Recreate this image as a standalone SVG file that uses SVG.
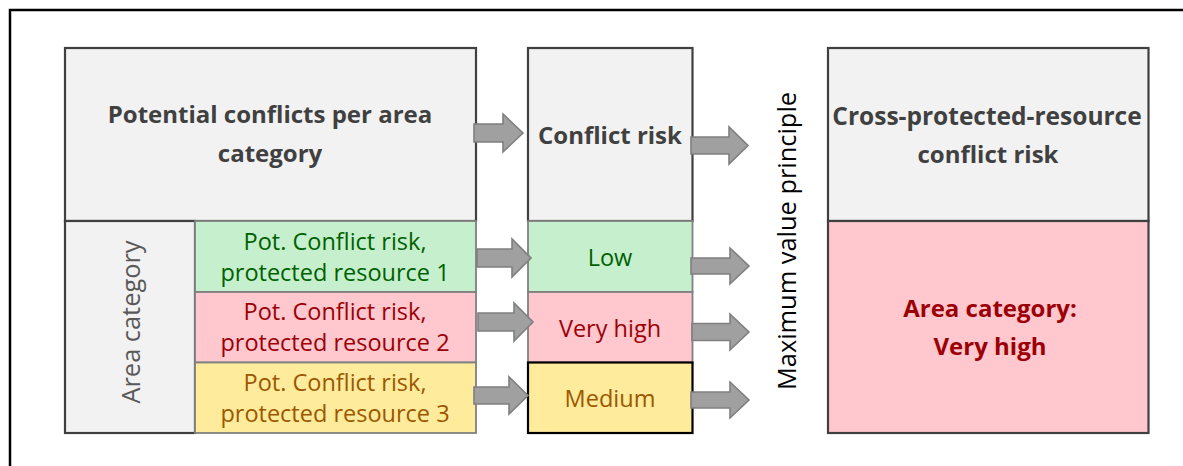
<svg xmlns="http://www.w3.org/2000/svg" width="1183" height="466" viewBox="0 0 1183 466">
<style>
.frame{fill:#ffffff;stroke:#000000;stroke-width:2.5}
.grey{fill:#f2f2f2;stroke:#404040;stroke-width:2.2}
.green{fill:#c6efce;stroke:#808080;stroke-width:1.8}
.pink{fill:#ffc7ce;stroke:#808080;stroke-width:1.8}
.yellow{fill:#ffeb9c;stroke:#808080;stroke-width:1.8}
.pinkdark{fill:#ffc7ce;stroke:#404040;stroke-width:2.2}
.yellowblack{fill:#ffeb9c;stroke:#000000;stroke-width:2.2}
.arrow{fill:#a0a0a0;stroke:#7f7f7f;stroke-width:1.6;stroke-linejoin:miter}
text{font-family:"Open Sans","Liberation Sans",sans-serif;text-anchor:middle}
.title{font-weight:bold;font-size:24px;fill:#404040}
.row{font-size:23.5px}
.g{fill:#006100}
.r{fill:#9c0006}
.y{fill:#9c5700}
.rot{font-size:25.4px}
</style>
<rect class="frame" x="10" y="10" width="1200" height="500"/>

<g id="node-potential">
<rect class="grey" x="65" y="48" width="411" height="173"/>
<text class="title" x="270" y="123">Potential conflicts per area</text>
<text class="title" x="270" y="162">category</text>
</g>
<g id="node-area-category">
<rect class="grey" x="65" y="221" width="130" height="212"/>
<text class="rot" transform="translate(140,322) rotate(-90)" fill="#595959">Area category</text>
</g>
<g id="node-pot1">
<rect class="green" x="195" y="221" width="281" height="71"/>
<text class="row g" x="335" y="250">Pot. Conflict risk,</text>
<text class="row g" x="335" y="281">protected resource 1</text>
</g>
<g id="node-pot2">
<rect class="pink" x="195" y="292" width="281" height="70.5"/>
<text class="row r" x="335" y="320">Pot. Conflict risk,</text>
<text class="row r" x="335" y="351">protected resource 2</text>
</g>
<g id="node-pot3">
<rect class="yellow" x="195" y="362.5" width="281" height="70.5"/>
<text class="row y" x="335" y="391">Pot. Conflict risk,</text>
<text class="row y" x="335" y="422">protected resource 3</text>
</g>

<g id="node-conflict-risk">
<rect class="grey" x="528" y="48" width="164.5" height="173"/>
<text class="title" x="610" y="144">Conflict risk</text>
</g>
<g id="node-low">
<rect class="green" x="528" y="221" width="164.5" height="71"/>
<text class="row g" x="610" y="266">Low</text>
</g>
<g id="node-veryhigh">
<rect class="pink" x="528" y="292" width="164.5" height="70.5"/>
<text class="row r" x="610" y="336.5">Very high</text>
</g>
<g id="node-medium">
<rect class="yellowblack" x="528" y="362.5" width="164.5" height="70.5"/>
<text class="row y" x="610" y="407">Medium</text>
</g>

<g id="node-max-principle">
<text class="rot" transform="translate(796,241) rotate(-90)" fill="#000000">Maximum value principle</text>
</g>

<g id="node-cross">
<rect class="grey" x="828" y="48" width="320.5" height="173"/>
<text class="title" x="987" y="125" style="font-size:24.5px">Cross-protected-resource</text>
<text class="title" x="988" y="163">conflict risk</text>
</g>
<g id="node-result">
<rect class="pinkdark" x="828" y="221" width="320.5" height="212"/>
<text class="title r" x="990" y="317">Area category:</text>
<text class="title r" x="990" y="355">Very high</text>
</g>

<g id="connectors">
<path class="arrow" d="M474,124 H503 V114 L523,133 L503,152 V142 H474 Z"/>
<path class="arrow" d="M691,137 H729 V127 L748,145.5 L729,164 V154 H691 Z"/>
<path class="arrow" d="M477,249 H512 V239 L531,258 L512,277 V267 H477 Z"/>
<path class="arrow" d="M478,313 H514 V303 L533,322 L514,341 V331 H478 Z"/>
<path class="arrow" d="M474,387 H509 V377 L528,395.5 L509,414 V404 H474 Z"/>
<path class="arrow" d="M691,258 H730 V248 L749,266 L730,284 V274 H691 Z"/>
<path class="arrow" d="M692,323.5 H730 V314 L749,332 L730,350 V340.5 H692 Z"/>
<path class="arrow" d="M691,392 H730 V382 L749,400 L730,418 V408 H691 Z"/>
</g>
</svg>
